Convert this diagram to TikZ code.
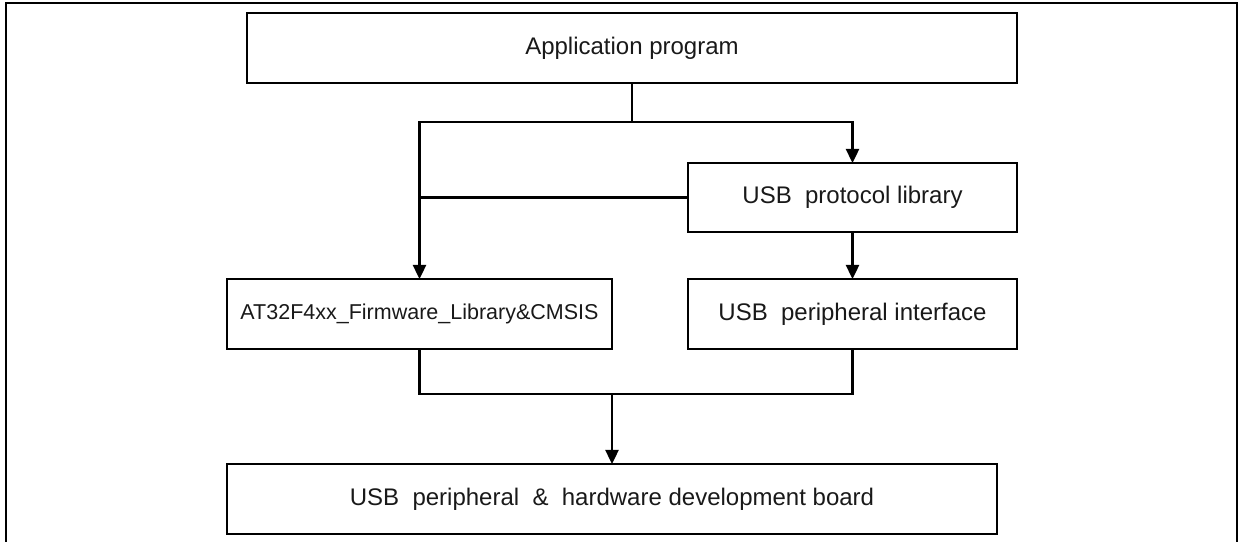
\documentclass[tikz,border=0pt]{standalone}
\usepackage{fontspec}
\setmainfont{Liberation Sans}
\usetikzlibrary{arrows.meta}

\tikzset{
  blk/.style={draw, line width=2.5bp, inner sep=0pt, outer sep=0pt,
    minimum height=70bp, align=center, text=black!90,
    font=\fontsize{24bp}{28bp}\selectfont},
  conn/.style={line width=2.4bp},
  flow/.style={conn, -{Triangle[length=14bp,width=13bp]}},
}

\begin{document}
\begin{tikzpicture}[x=1bp, y=-1bp]
  \useasboundingbox (0,0) rectangle (1243,542);
  % outer frame (open at the bottom edge)
  \draw[line width=2.5bp] (6,542) -- (6,3) -- (1237,3) -- (1237,542);

  % blocks
  \node[blk, minimum width=770bp] (app)   at (632,48)    {Application program};
  \node[blk, minimum width=329bp, minimum height=69bp] (prot) at (852.5,197.5) {USB\ \ protocol library};
  \node[blk, minimum width=385bp, font=\fontsize{21.5bp}{26bp}\selectfont] (at32) at (419.5,314) {AT32F4xx\_Firmware\_Library\&CMSIS};
  \node[blk, minimum width=329bp] (iface) at (852.5,314)   {USB\ \ peripheral interface};
  \node[blk, minimum width=770bp] (board) at (612,499)     {USB\ \ peripheral\ \ \&\ \ hardware development board};

  % junction points
  \coordinate (split) at (632,122);
  \coordinate (merge) at (612,394);

  % connectors
  \draw[conn] (app.south) -- (split);
  \draw[flow] (split) -| (prot.north);
  \draw[flow] (split) -| (at32.north);
  \draw[conn] (prot.west) -- (prot.west -| at32.north);
  \draw[flow] (prot.south) -- (iface.north);
  \draw[conn] (at32.south) |- (merge) -| (iface.south);
  \draw[flow] (merge) -- (board.north);
\end{tikzpicture}
\end{document}
